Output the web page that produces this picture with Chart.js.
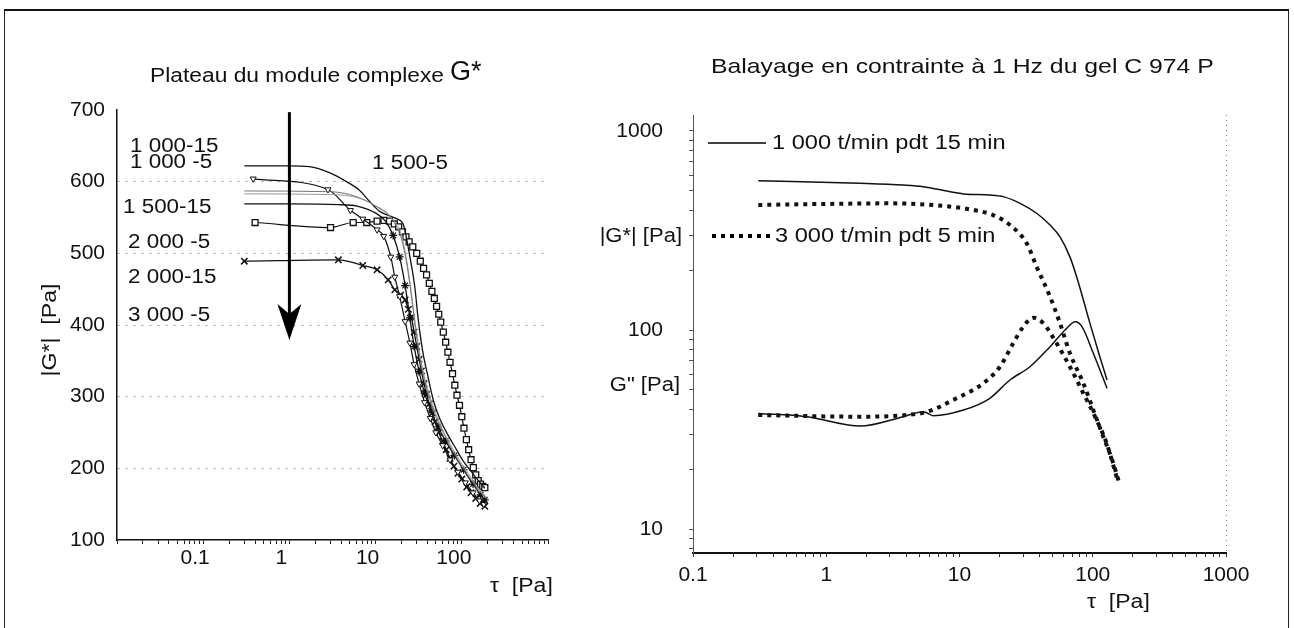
<!DOCTYPE html>
<html><head><meta charset="utf-8">
<script src="https://cdn.jsdelivr.net/npm/chart.js@4.4.1/dist/chart.umd.min.js"></script>
<style>
html,body{margin:0;padding:0;background:#fff;}
#wrap{position:relative;width:1294px;height:628px;overflow:hidden;background:#fff;}
#frame{position:absolute;left:4px;top:9px;width:1283px;height:660px;border-top:2px solid #111;border-left:1px solid #222;border-right:1px solid #222;}
canvas{position:absolute;top:0;}
#c1{left:0}
#c2{left:580px}
</style></head><body>
<div id="wrap"><div id="frame"></div>
<canvas id="c1" width="580" height="628"></canvas>
<canvas id="c2" width="714" height="628"></canvas></div>
<script>
// ---------- LEFT CHART DATA : |G*| plateau (tau in Pa, G* in Pa) ----------
const tau_1000_15 = [0.3, 1, 1.7, 3, 4.6, 6.5, 8, 11, 14, 17.7, 21, 25, 28.5, 31, 35, 41, 47, 56, 68, 85, 104, 130, 163, 185];
const g_1000_15   = [622, 622, 621, 612, 600, 588, 576, 559, 553, 548, 540, 495, 453, 411, 365, 325, 294, 268, 248, 228, 210, 195, 180, 172];

const tau_1000_5 = [0.38, 2.8, 5.1, 7.1, 10.4, 12.4, 15, 16.7, 19, 22, 25, 28, 32, 37, 43, 50, 60, 73, 90, 110, 135, 160, 180];
const g_1000_5   = [604, 589, 560, 548, 533, 524, 495, 467, 440, 405, 375, 345, 318, 292, 270, 250, 232, 212, 195, 180, 166, 155, 150];

const tau_1500_15 = [0.3, 3, 5, 7.9, 10, 12, 14, 17, 20, 23, 26, 29, 32, 36, 42, 50, 62, 78, 100, 130, 165, 185];
const g_1500_15   = [587, 586, 582, 573, 566, 561, 555, 540, 520, 485, 440, 395, 360, 328, 298, 272, 248, 225, 203, 183, 166, 160];

const tau_2000_5 = [0.3, 3, 5, 7.9, 10, 12, 14, 17, 20, 23, 26, 29, 32, 36, 42, 50, 62, 78, 100, 130, 165, 185];
const g_2000_5   = [583, 582, 580, 573, 566, 560, 554, 542, 525, 490, 445, 400, 365, 333, 303, 276, 250, 228, 206, 186, 168, 162];

const tau_2000_15 = [0.3, 1, 3.7, 6.1, 10.4, 13, 16, 19, 22, 25, 28, 32, 37, 44, 53, 65, 82, 105, 135, 165, 185];
const g_2000_15   = [569, 569, 568, 566, 555, 545, 525, 495, 455, 410, 370, 335, 305, 280, 258, 238, 218, 198, 178, 163, 156];

const tau_3000_5 = [0.3, 3.7, 7.1, 10.4, 14, 16.7, 19.5, 22, 24, 26, 28, 30, 32, 34, 36.5, 39, 42, 45.5, 49, 54, 60, 66, 73, 81, 90, 100, 114, 128, 145, 163, 185];
const g_3000_5   = [489, 491, 483, 477, 463, 449, 442, 435, 422, 411, 390, 370, 352, 336, 318, 303, 290, 277, 265, 250, 238, 226, 214, 203, 193, 185, 174, 166, 158, 151, 147];

const tau_1500_5 = [0.4, 3, 5.5, 7.9, 10.4, 12.5, 14.5, 16.5, 18.5, 20.5, 22.5, 24.5, 27, 30, 33, 36, 39, 42, 45, 48, 51, 54, 57, 61, 65, 69, 73, 78, 83, 88, 94, 100, 106, 113, 120, 128, 136, 145, 155, 165, 175, 185];
const g_1500_5   = [543, 536, 543, 543, 545, 546, 545, 541, 537, 530, 523, 516, 509, 500, 489, 479, 470, 458, 447, 437, 426, 415, 404, 390, 376, 362, 348, 332, 316, 302, 288, 272, 256, 240, 226, 212, 201, 191, 183, 178, 175, 173];

const leftXLabels = [0.1, 1, 10, 100];
const leftYTicks  = [100, 200, 300, 400, 500, 600, 700];

// ---------- RIGHT CHART DATA : stress sweep at 1 Hz ----------
const tau_gs_1000 = [0.309, 1.79, 3.79, 5.35, 8.5, 10.7, 16.9, 21.3, 28.5, 37.9, 47.8, 56.8, 67.4, 75.7, 95.3, 113, 128];
const gs_1000     = [563, 546, 535, 525, 495, 483, 477, 468, 433, 386, 337, 294, 233, 185, 108, 73.4, 56.1];

const tau_gs_3000 = [0.309, 1, 3.0, 7.6, 12.7, 17.9, 23.9, 31.9, 37.9, 47.8, 56.8, 67.4, 85, 101, 120, 140, 160];
const gs_3000     = [425, 430, 433, 420, 401, 378, 337, 273, 208, 147, 108, 76.4, 54.0, 39.6, 29.1, 22.2, 16.6];

const tau_gpp_1000 = [0.309, 0.71, 1.79, 3.79, 5.35, 6.36, 10.7, 16.9, 23.9, 33.8, 47.8, 62, 74, 83, 101, 128];
const gpp_1000     = [38.1, 36.7, 32.9, 36.7, 38.9, 37.1, 39.6, 45.4, 56.1, 65.4, 82.4, 100, 110, 103.9, 76.4, 50.9];

const tau_gpp_3000 = [0.309, 1.69, 5.06, 9.5, 15.1, 20.1, 25.3, 30.1, 35.8, 42.6, 53.6, 67.4, 85, 107, 127, 152];
const gpp_3000     = [37.4, 36.7, 38.1, 45.4, 54.0, 65.4, 85.7, 103.9, 115.3, 108, 85.7, 65.4, 48.1, 35.3, 27.0, 18.0];

const rightXLabels = [0.1, 1, 10, 100, 1000];
const rightYLabels = [10, 100, 1000];

// ---------- helpers ----------
const FONT = '"Liberation Sans", Arial, sans-serif';
Chart.defaults.font.family = FONT;
Chart.defaults.color = '#111';

const pts = (xs, ys) => xs.map((x, i) => ({x, y: ys[i]}));
function logTicks(min, max) {
  const out = [];
  for (let e = -3; e <= 4; e++) for (let m = 1; m < 10; m++) {
    const v = +(m * Math.pow(10, e)).toPrecision(6);
    if (v >= min * 0.9999 && v <= max * 1.0001) out.push(v);
  }
  return out;
}
const isIn = (v, list) => list.some(L => Math.abs(Math.log10(v) - Math.log10(L)) < 1e-6);
const fmt = (v, list) => isIn(v, list) ? String(v) : '';

function txt(ctx, s, x, y, size, sx, align) {
  ctx.save();
  ctx.font = size + 'px ' + FONT;
  ctx.textBaseline = 'middle';
  ctx.fillStyle = '#111';
  ctx.translate(x, y);
  ctx.scale(sx || 1, 1);
  const w = ctx.measureText(s).width;
  let dx = 0;
  if (align === 'right') dx = -w; else if (align === 'center') dx = -w / 2;
  ctx.fillText(s, dx, 0);
  ctx.restore();
  return w * (sx || 1);
}

// ---------- LEFT annotations ----------
const arrowX = 1, arrowTop = 697, arrowTip = 379;
const leftAnno = {
  id: 'leftAnno',
  afterDraw(chart) {
    const ctx = chart.ctx;
    const w = txt(ctx, 'Plateau du module complexe', 150, 76, 20, 1.14);
    txt(ctx, 'G*', 150 + w + 6, 73, 27, 1.0);
    const S = 20, SX = 1.12;
    txt(ctx, '1 000-15', 130, 146, S, SX);
    txt(ctx, '1 000 -5', 130, 162, S, SX);
    txt(ctx, '1 500-15', 123, 207, S, SX);
    txt(ctx, '2 000 -5', 128, 242, S, SX);
    txt(ctx, '2 000-15', 128, 277, S, SX);
    txt(ctx, '3 000 -5', 128, 315, S, SX);
    txt(ctx, '1 500-5', 372, 163, S, SX);
    txt(ctx, 'τ  [Pa]', 490, 586, 20, 1.15);
    // y axis title
    ctx.save();
    ctx.translate(50, 330);
    ctx.rotate(-Math.PI / 2);
    txt(ctx, '|G*|  [Pa]', 0, 0, 21, 1.1, 'center');
    ctx.restore();
    // arrow
    const xs = chart.scales.x, ys = chart.scales.y;
    const ax = xs.getPixelForValue(arrowX);
    const y0 = ys.getPixelForValue(arrowTop), y1 = ys.getPixelForValue(arrowTip);
    ctx.save();
    ctx.strokeStyle = '#000'; ctx.fillStyle = '#000'; ctx.lineWidth = 3;
    ctx.beginPath(); ctx.moveTo(ax, y0); ctx.lineTo(ax, y1 - 25); ctx.stroke();
    ctx.beginPath();
    ctx.moveTo(ax, y1); ctx.lineTo(ax - 12, y1 - 36); ctx.lineTo(ax, y1 - 26); ctx.lineTo(ax + 12, y1 - 36);
    ctx.closePath(); ctx.fill();
    ctx.restore();
  }
};

// ---------- RIGHT annotations ----------
const rightAnno = {
  id: 'rightAnno',
  afterDraw(chart) {
    const ctx = chart.ctx;
    txt(ctx, 'Balayage en contrainte à 1 Hz du gel C 974 P', 131, 67, 21, 1.18);
    // legend
    ctx.save();
    ctx.strokeStyle = '#000';
    ctx.lineWidth = 1.5;
    ctx.beginPath(); ctx.moveTo(128, 143); ctx.lineTo(186, 143); ctx.stroke();
    ctx.lineWidth = 4; ctx.setLineDash([4, 5]); ctx.lineCap = 'butt';
    ctx.beginPath(); ctx.moveTo(132, 236); ctx.lineTo(190, 236); ctx.stroke();
    ctx.restore();
    txt(ctx, '1 000 t/min pdt 15 min', 192, 143, 20, 1.18);
    txt(ctx, '3 000 t/min pdt 5 min', 195, 236, 20, 1.18);
    txt(ctx, '|G*| [Pa]', 102, 236, 20, 1.1, 'right');
    txt(ctx, 'G" [Pa]', 100, 385, 20, 1.1, 'right');
    txt(ctx, 'τ  [Pa]', 507, 602, 20, 1.15);
  }
};

const noTip = {legend: {display: false}, tooltip: {enabled: false}, title: {display: false}};

// ---------- LEFT CHART ----------
new Chart(document.getElementById('c1'), {
  type: 'scatter',
  data: {datasets: [
    {label: '1 500-15', data: pts(tau_1500_15, g_1500_15), showLine: true, borderColor: '#777', borderWidth: 1, pointRadius: 0},
    {label: '2 000-5', data: pts(tau_2000_5, g_2000_5), showLine: true, borderColor: '#999', borderWidth: 1, pointRadius: 0},
    {label: '1 000-15', data: pts(tau_1000_15, g_1000_15), showLine: true, borderColor: '#111', borderWidth: 1.3, pointRadius: 0},
    {label: '2 000-15', data: pts(tau_2000_15, g_2000_15), showLine: true, borderColor: '#111', borderWidth: 1.3,
      pointStyle: 'star', pointRadius: c => (c.raw && c.raw.x > 15) ? 4 : 0, pointBorderColor: '#111', pointBorderWidth: 1.2},
    {label: '1 000-5', data: pts(tau_1000_5, g_1000_5), showLine: true, borderColor: '#111', borderWidth: 1.2,
      pointStyle: 'triangle', rotation: 180, pointRadius: 3.5, pointBackgroundColor: '#fff', pointBorderColor: '#111', pointBorderWidth: 1},
    {label: '3 000-5', data: pts(tau_3000_5, g_3000_5), showLine: true, borderColor: '#111', borderWidth: 1.3,
      pointStyle: 'crossRot', pointRadius: 4.5, pointBorderColor: '#111', pointBorderWidth: 1.5},
    {label: '1 500-5', data: pts(tau_1500_5, g_1500_5), showLine: true, borderColor: '#111', borderWidth: 1.2,
      pointStyle: 'rect', pointRadius: 4.2, pointBackgroundColor: '#fff', pointBorderColor: '#111', pointBorderWidth: 1.3}
  ]},
  options: {
    responsive: false, animation: false, devicePixelRatio: 1,
    layout: {padding: {left: 57, right: 32, top: 110, bottom: 38}},
    plugins: noTip,
    elements: {line: {cubicInterpolationMode: 'monotone'}},
    scales: {
      x: {type: 'logarithmic', min: 0.01, max: 1000,
        afterBuildTicks: s => { s.ticks = logTicks(0.01, 1000).map(v => ({value: v})); },
        afterFit: s => { s.height = 50; },
        ticks: {autoSkip: false, maxRotation: 0, padding: 2, labelOffset: -8, font: {size: 21}, color: '#111',
          callback: v => fmt(v, leftXLabels)},
        grid: {drawOnChartArea: false, drawTicks: true, tickLength: 4, tickColor: '#222', tickWidth: 1, tickBorderDash: []},
        border: {display: true, color: '#111', width: 1.5}},
      y: {type: 'linear', min: 100, max: 700,
        afterBuildTicks: s => { s.ticks = leftYTicks.map(v => ({value: v})); },
        afterFit: s => { s.width = 60; },
        ticks: {padding: 12, font: {size: 21}, color: '#111', callback: v => String(v)},
        grid: {drawTicks: false, lineWidth: 1,
          color: c => (c.tick && (c.tick.value === 100 || c.tick.value === 700)) ? 'rgba(0,0,0,0)' : '#9a9a9a'},
        border: {display: true, color: '#111', width: 1.5, dash: [2, 6]}}
    }
  },
  plugins: [leftAnno]
});

// ---------- RIGHT CHART ----------
const dotted = {borderColor: '#111', borderWidth: 4, borderDash: [4, 5], borderCapStyle: 'butt', pointRadius: 0, showLine: true};
const solid = {borderColor: '#111', borderWidth: 1.5, pointRadius: 0, showLine: true};
new Chart(document.getElementById('c2'), {
  type: 'scatter',
  data: {datasets: [
    Object.assign({label: '|G*| 1 000 t/min pdt 15 min', data: pts(tau_gs_1000, gs_1000)}, solid),
    Object.assign({label: '|G*| 3 000 t/min pdt 5 min', data: pts(tau_gs_3000, gs_3000)}, dotted),
    Object.assign({label: 'G" 1 000 t/min pdt 15 min', data: pts(tau_gpp_1000, gpp_1000)}, solid),
    Object.assign({label: 'G" 3 000 t/min pdt 5 min', data: pts(tau_gpp_3000, gpp_3000)}, dotted)
  ]},
  options: {
    responsive: false, animation: false, devicePixelRatio: 1,
    layout: {padding: {left: 13, right: 68, top: 115, bottom: 25}},
    plugins: noTip,
    elements: {line: {cubicInterpolationMode: 'monotone'}},
    scales: {
      x: {type: 'logarithmic', min: 0.1, max: 1000,
        afterBuildTicks: s => { s.ticks = logTicks(0.1, 1000).map(v => ({value: v})); },
        afterFit: s => { s.height = 50; },
        ticks: {autoSkip: false, maxRotation: 0, padding: 6, font: {size: 21}, color: '#111',
          callback: v => fmt(v, rightXLabels)},
        grid: {drawOnChartArea: true, drawTicks: true, tickLength: 4, tickColor: '#333', tickBorderDash: [],
          color: c => (c.tick && isIn(c.tick.value, [1000])) ? '#777' : 'rgba(0,0,0,0)'},
        border: {display: true, color: '#111', width: 2, dash: [1, 4]}},
      y: {type: 'logarithmic', min: 7.58, max: 1203,
        afterBuildTicks: s => { s.ticks = logTicks(7.58, 1203).map(v => ({value: v})); },
        afterFit: s => { s.width = 100; },
        ticks: {autoSkip: false, padding: 26, font: {size: 21}, color: '#111',
          callback: v => fmt(v, rightYLabels)},
        grid: {drawOnChartArea: false, drawTicks: true, tickLength: 4, tickColor: '#555', tickBorderDash: []},
        border: {display: true, color: '#555', width: 1}}
    }
  },
  plugins: [rightAnno]
});
</script>
</body></html>
